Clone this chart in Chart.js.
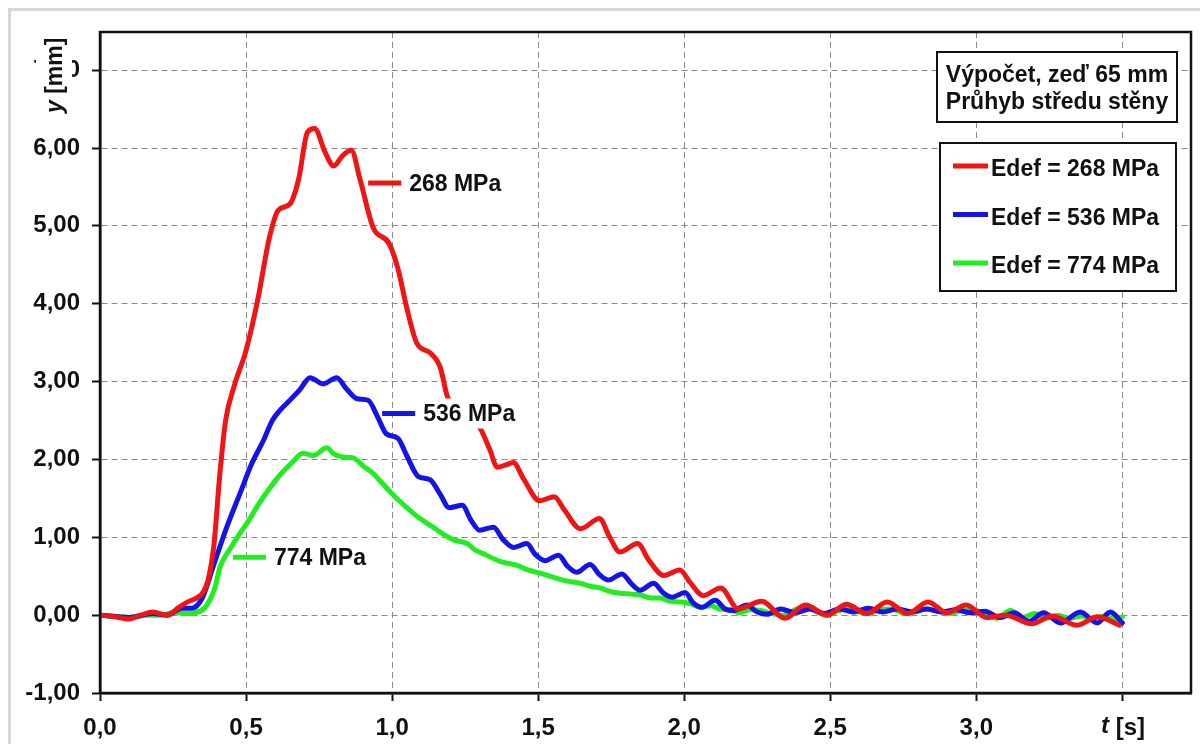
<!DOCTYPE html>
<html><head><meta charset="utf-8">
<script src="https://cdn.jsdelivr.net/npm/chart.js@4.4.0/dist/chart.umd.min.js"></script>
<style>
html,body{margin:0;padding:0;background:#fff;overflow:hidden;width:1200px;height:744px}
#frame{position:absolute;left:8px;top:8px;width:1220px;height:800px;border:3px solid #d6d6d6;box-sizing:border-box}
#wrap{position:absolute;left:0;top:0;width:1200px;height:744px}
</style></head><body>
<div id="frame"></div>
<div id="wrap"><canvas id="c" width="1200" height="744"></canvas></div>
<script>
// ---- data ----
const tRed = [0.00,0.05,0.10,0.14,0.18,0.23,0.27,0.30,0.33,0.35,0.37,0.39,0.41,0.43,0.46,0.50,0.54,0.58,0.61,0.65,0.68,0.71,0.735,0.77,0.80,0.83,0.86,0.89,0.935,0.99,1.02,1.05,1.085,1.13,1.165,1.19,1.25,1.30,1.335,1.36,1.39,1.415,1.45,1.505,1.555,1.59,1.645,1.71,1.745,1.78,1.84,1.88,1.93,1.985,2.02,2.065,2.125,2.185,2.265,2.345,2.415,2.49,2.555,2.625,2.695,2.765,2.835,2.90,2.965,3.035,3.10,3.19,3.26,3.345,3.415,3.49];
const yRed = [0.00,-0.02,-0.05,0.00,0.04,0.00,0.10,0.17,0.22,0.28,0.45,0.90,1.80,2.50,2.95,3.40,4.05,4.85,5.20,5.28,5.60,6.20,6.25,5.95,5.77,5.90,5.97,5.60,4.98,4.77,4.45,3.95,3.49,3.37,3.18,2.80,2.60,2.41,2.12,1.90,1.93,1.96,1.75,1.47,1.52,1.35,1.11,1.24,1.00,0.81,0.92,0.70,0.51,0.58,0.42,0.25,0.35,0.08,0.18,-0.04,0.13,0.00,0.14,0.02,0.17,0.02,0.17,0.03,0.13,-0.03,0.00,-0.11,-0.01,-0.13,-0.02,-0.13];

const tBlue = [0.00,0.10,0.18,0.23,0.28,0.315,0.35,0.387,0.434,0.479,0.52,0.559,0.59,0.616,0.65,0.685,0.719,0.764,0.81,0.845,0.88,0.918,0.95,0.98,1.02,1.05,1.09,1.13,1.165,1.195,1.24,1.27,1.30,1.347,1.38,1.416,1.461,1.49,1.524,1.57,1.60,1.632,1.678,1.71,1.74,1.787,1.82,1.849,1.895,1.93,1.958,2.003,2.03,2.06,2.106,2.14,2.168,2.215,2.25,2.283,2.33,2.38,2.43,2.48,2.53,2.58,2.63,2.68,2.73,2.78,2.83,2.88,2.93,2.98,3.03,3.08,3.13,3.18,3.23,3.288,3.356,3.414,3.459,3.50];
const yBlue = [0.00,-0.03,0.02,0.00,0.09,0.09,0.22,0.62,1.13,1.56,1.95,2.24,2.50,2.63,2.76,2.90,3.05,2.97,3.05,2.90,2.78,2.76,2.55,2.33,2.27,2.05,1.78,1.74,1.55,1.38,1.41,1.22,1.09,1.13,0.97,0.87,0.92,0.78,0.70,0.77,0.63,0.55,0.65,0.52,0.45,0.53,0.40,0.32,0.41,0.28,0.23,0.29,0.16,0.10,0.19,0.08,0.06,0.13,0.04,0.01,0.08,0.03,0.08,0.02,0.08,0.04,0.09,0.04,0.08,0.04,0.08,0.04,0.07,0.03,0.05,-0.03,0.03,-0.08,0.03,-0.10,0.04,-0.10,0.04,-0.10];

const tGreen = [0.00,0.10,0.16,0.21,0.257,0.29,0.325,0.36,0.394,0.411,0.445,0.479,0.51,0.537,0.575,0.616,0.655,0.695,0.73,0.777,0.80,0.832,0.867,0.90,0.935,0.965,1.00,1.03,1.06,1.096,1.14,1.175,1.209,1.257,1.283,1.312,1.37,1.428,1.465,1.507,1.54,1.575,1.61,1.644,1.68,1.712,1.75,1.781,1.82,1.849,1.885,1.918,1.95,1.986,2.02,2.055,2.09,2.123,2.16,2.19,2.225,2.26,2.30,2.34,2.38,2.42,2.455,2.49,2.525,2.56,2.60,2.63,2.67,2.71,2.75,2.79,2.83,2.87,2.91,2.95,2.99,3.03,3.07,3.116,3.16,3.20,3.24,3.28,3.32,3.36,3.40,3.44,3.47,3.50];
const yGreen = [0.00,-0.03,0.00,0.00,0.04,0.02,0.03,0.10,0.36,0.62,0.85,1.05,1.22,1.39,1.60,1.80,1.95,2.08,2.05,2.15,2.07,2.03,2.02,1.92,1.82,1.70,1.56,1.45,1.35,1.24,1.13,1.04,0.97,0.92,0.84,0.79,0.69,0.64,0.58,0.54,0.50,0.46,0.43,0.41,0.37,0.35,0.30,0.28,0.27,0.26,0.22,0.22,0.18,0.17,0.15,0.10,0.12,0.08,0.07,0.03,0.07,0.06,0.02,0.00,0.07,0.10,0.04,0.00,0.05,0.09,0.04,0.02,0.07,0.08,0.03,0.04,0.08,0.05,0.02,0.06,0.07,0.01,-0.04,0.06,-0.03,0.02,-0.04,0.00,-0.04,-0.01,-0.05,-0.01,-0.05,-0.02];

const seriesLabels = ['Edef = 268 MPa','Edef = 536 MPa','Edef = 774 MPa'];
const seriesColors = ['#f01414','#1414e8','#20ee20'];
const noteTexts = ['268 MPa','536 MPa','774 MPa'];
const noteT = [0.918,0.966,0.455];
const noteY = [5.55,2.59,0.744];
const headerLines = ['Výpočet, zeď 65 mm','Průhyb středu stěny'];
const xTitle = ['t',' [s]'];
const yTitle = ['y',' [mm]'];

const FONT = '"Liberation Sans", Arial, sans-serif';

function pts(ts, ys){ return ts.map((t,i)=>({x:t,y:ys[i]})); }

const decor = {
  id:'decor',
  afterDatasetsDraw(chart){
    const ctx = chart.ctx, xs = chart.scales.x, ys = chart.scales.y;
    ctx.save();
    ctx.font = 'bold 23px ' + FONT;
    for (let i=0;i<noteTexts.length;i++){
      const px = xs.getPixelForValue(noteT[i]), py = ys.getPixelForValue(noteY[i]);
      const tx = px + 41;
      const w = ctx.measureText(noteTexts[i]).width;
      ctx.fillStyle = '#fff';
      ctx.fillRect(tx-4, py-15, w+8, 30);
      ctx.strokeStyle = seriesColors[i];
      ctx.lineWidth = 5;
      ctx.beginPath(); ctx.moveTo(px, py); ctx.lineTo(px+33, py); ctx.stroke();
      ctx.fillStyle = '#111';
      ctx.textBaseline = 'alphabetic';
      ctx.fillText(noteTexts[i], tx, py+8);
    }
    ctx.restore();
  },
  afterDraw(chart){
    const ctx = chart.ctx, a = chart.chartArea;
    ctx.save();
    // plot frame
    ctx.strokeStyle = '#111'; ctx.lineWidth = 2.5;
    ctx.strokeRect(a.left, a.top, a.right-a.left, a.bottom-a.top);
    // y title with white background
    ctx.fillStyle = '#fff';
    ctx.fillRect(36, 30, 36, 88);
    ctx.translate(62, 113);
    ctx.rotate(-Math.PI/2);
    ctx.fillStyle = '#111';
    ctx.textBaseline = 'alphabetic';
    ctx.font = 'italic bold 23px ' + FONT;
    ctx.fillText(yTitle[0], 0, 0);
    let w0 = ctx.measureText(yTitle[0]).width;
    ctx.font = 'bold 23px ' + FONT;
    ctx.fillText(yTitle[1], w0, 0);
    ctx.setTransform(1,0,0,1,0,0);
    // x title
    ctx.font = 'italic bold 24px ' + FONT;
    ctx.fillText(xTitle[0], 1101, 733);
    w0 = ctx.measureText(xTitle[0]).width;
    ctx.font = 'bold 24px ' + FONT;
    ctx.fillText(xTitle[1], 1101 + w0, 735);
    // header box
    ctx.fillStyle = '#fff';
    ctx.fillRect(937, 52, 240, 70);
    ctx.strokeStyle = '#111'; ctx.lineWidth = 2;
    ctx.strokeRect(937, 52, 240, 70);
    ctx.fillStyle = '#111';
    ctx.font = 'bold 23px ' + FONT;
    ctx.textAlign = 'center';
    ctx.fillText(headerLines[0], 1057, 82);
    ctx.fillText(headerLines[1], 1057, 109);
    // legend box
    ctx.textAlign = 'left';
    ctx.fillStyle = '#fff';
    ctx.fillRect(940, 143, 236, 148);
    ctx.strokeRect(940, 143, 236, 148);
    const ly = [166, 214.5, 263];
    chart.data.datasets.forEach((ds, i) => {
      ctx.strokeStyle = ds.borderColor; ctx.lineWidth = 5;
      ctx.beginPath(); ctx.moveTo(953, ly[i]); ctx.lineTo(988, ly[i]); ctx.stroke();
      ctx.fillStyle = '#111';
      ctx.font = 'bold 23px ' + FONT;
      ctx.fillText(ds.label, 991, ly[i] + 10);
    });
    ctx.restore();
  }
};

const tickFont = {family: FONT, size: 24, weight: 'bold'};

new Chart(document.getElementById('c'), {
  type: 'line',
  data: {
    datasets: [
      {label: seriesLabels[0], data: pts(tRed, yRed), borderColor: seriesColors[0]},
      {label: seriesLabels[1], data: pts(tBlue, yBlue), borderColor: seriesColors[1]},
      {label: seriesLabels[2], data: pts(tGreen, yGreen), borderColor: seriesColors[2]}
    ].map(d => Object.assign(d, {borderWidth: 5, pointRadius: 0, fill: false, cubicInterpolationMode: 'monotone', borderJoinStyle: 'round', borderCapStyle: 'round'}))
  },
  options: {
    responsive: false, animation: false, devicePixelRatio: 1,
    layout: {padding: {left: 0, top: 32, right: 9, bottom: 0}},
    plugins: {legend: {display: false}, tooltip: {enabled: false}},
    scales: {
      x: {
        type: 'linear', min: 0, max: 3.735,
        afterFit(s){ s.height = 51; },
        ticks: {stepSize: 0.5, includeBounds: false, autoSkip: false, maxRotation: 0, padding: 13, color: '#111', font: tickFont,
          callback: v => Math.abs(v-3.5) < 1e-6 ? '' : v.toFixed(1).replace('.', ',')},
        grid: {color: '#8a8a8a', lineWidth: 1, tickLength: 8, tickColor: '#111', tickWidth: 2, tickBorderDash: []},
        border: {color: '#111', width: 2.5, dash: [6, 4]}
      },
      y: {
        type: 'linear', min: -1, max: 7.49,
        afterFit(s){ s.width = 100; },
        ticks: {stepSize: 1, includeBounds: false, padding: 12, color: '#111', font: tickFont,
          callback: v => v.toFixed(2).replace('.', ',')},
        grid: {color: '#8a8a8a', lineWidth: 1, tickLength: 8, tickColor: '#111', tickWidth: 2, tickBorderDash: []},
        border: {color: '#111', width: 2.5, dash: [6, 4]}
      }
    }
  },
  plugins: [decor]
});
</script>
</body></html>
